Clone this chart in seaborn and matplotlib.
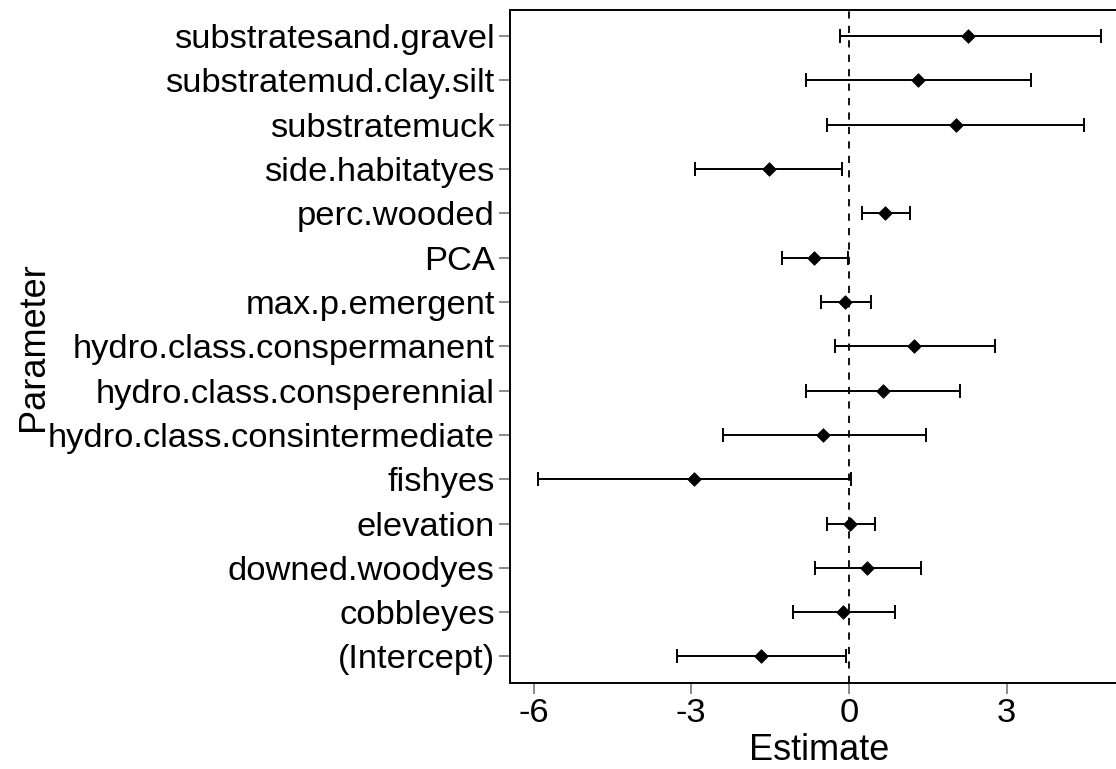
import matplotlib
matplotlib.use("Agg")
import matplotlib.pyplot as plt
import seaborn as sns
import pandas as pd

# Coefficient estimates with 95% confidence limits
parameters = [
    "(Intercept)", "cobbleyes", "downed.woodyes", "elevation", "fishyes",
    "hydro.class.consintermediate", "hydro.class.consperennial",
    "hydro.class.conspermanent", "max.p.emergent", "PCA", "perc.wooded",
    "side.habitatyes", "substratemuck", "substratemud.clay.silt",
    "substratesand.gravel",
]
estimate = [-1.67, -0.11, 0.34, 0.02, -2.95, -0.49, 0.65, 1.23, -0.08, -0.67,
            0.69, -1.53, 2.03, 1.31, 2.27]
lower = [-3.27, -1.07, -0.65, -0.41, -5.91, -2.40, -0.82, -0.26, -0.54, -1.28,
         0.25, -2.93, -0.41, -0.82, -0.17]
upper = [-0.06, 0.87, 1.37, 0.50, 0.03, 1.46, 2.12, 2.78, 0.42, -0.01,
         1.16, -0.14, 4.47, 3.47, 4.79]
x_ticks = [-6, -3, 0, 3]

df = pd.DataFrame({"Parameter": parameters, "Estimate": estimate,
                   "lower": lower, "upper": upper})
df["pos"] = range(1, len(df) + 1)

sns.set_theme(style="white")
plt.rcParams["font.family"] = ["Liberation Sans", "DejaVu Sans"]
plt.rcParams["text.color"] = "black"
plt.rcParams["axes.labelcolor"] = "black"

fig = plt.figure(figsize=(11.16, 7.69), dpi=100)
ax = fig.add_axes([0.457, 0.1118, 0.5547, 0.8758])

ax.axvline(0, color="black", linestyle=(0, (4, 4)), linewidth=1.3, zorder=1)
ax.errorbar(df["Estimate"], df["pos"],
            xerr=[df["Estimate"] - df["lower"], df["upper"] - df["Estimate"]],
            fmt="none", ecolor="black", elinewidth=1.4, capsize=5,
            capthick=1.4, zorder=2)
sns.scatterplot(data=df, x="Estimate", y="pos", marker="D", s=48,
                color="black", edgecolor="black", ax=ax, zorder=3,
                legend=False)

ax.set_xlim(-6.45, 5.33)
ax.set_ylim(0.4, 15.6)
ax.set_yticks(df["pos"])
ax.set_yticklabels(df["Parameter"])
ax.set_xticks(x_ticks)
ax.set_xticklabels([str(t) for t in x_ticks])

ax.tick_params(axis="both", which="both", length=8, width=1.2,
               color="#777777", labelsize=24.8, labelcolor="black", pad=3,
               left=True, bottom=True)
for side in ["left", "bottom", "top", "right"]:
    ax.spines[side].set_color("black")
    ax.spines[side].set_linewidth(1.4)

ax.set_xlabel("Estimate", fontsize=26, labelpad=3)
ax.set_ylabel("Parameter", fontsize=26, labelpad=-2)

fig.savefig("out.png", dpi=100)
